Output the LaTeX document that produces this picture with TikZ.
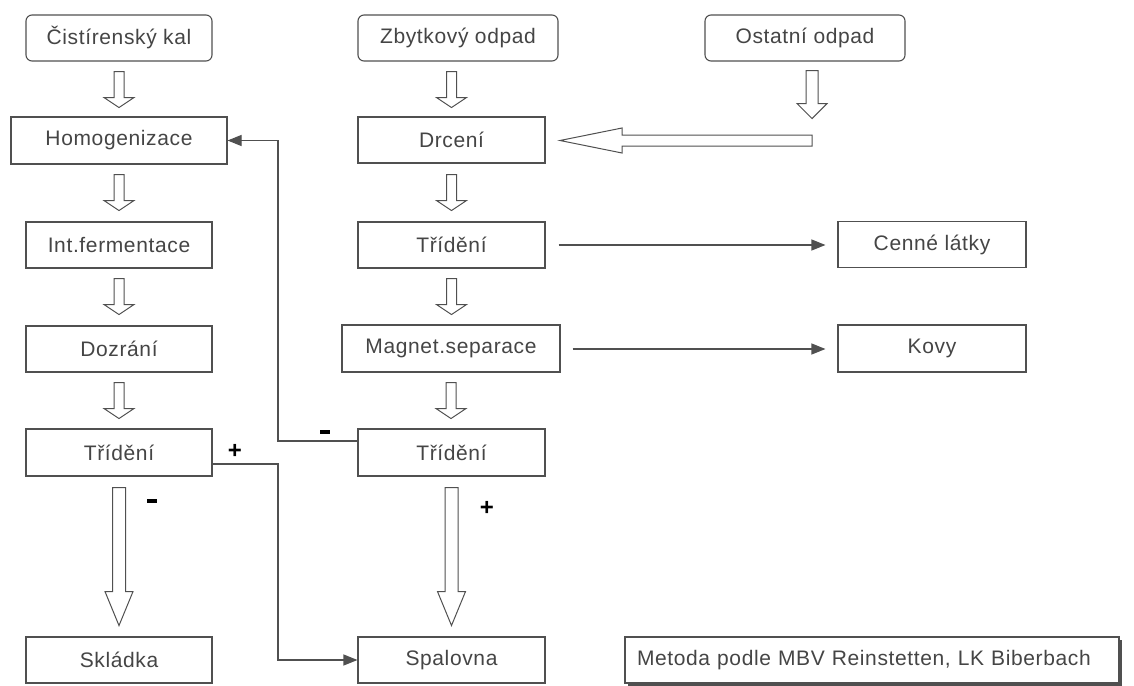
\documentclass[tikz,border=0pt]{standalone}
\usepackage{fontspec}
\setmainfont{Liberation Sans}[LetterSpace=3]
\newfontfamily\signfont{Liberation Sans}
\usetikzlibrary{arrows.meta,calc,shadows}
\definecolor{ln}{HTML}{505050}
\definecolor{tx}{HTML}{454545}
\begin{document}
\begin{tikzpicture}[x=1pt,y=-1pt,
  box/.style={draw=ln, line width=1.1pt, rectangle, minimum width=187pt, minimum height=46pt, inner sep=0pt, text=tx, font=\fontsize{21}{24}\selectfont},
  rbox/.style={box, rounded corners=6pt},
  hollow/.style={draw=ln, line width=1pt, fill=white, line join=miter},
  conn/.style={draw=ln, line width=1.1pt, -{Triangle[length=14pt,width=11pt]}},
  sign/.style={text=black, font=\signfont\bfseries\fontsize{24}{26}\selectfont, inner sep=0pt},
  minus/.style={fill=black, minimum width=10pt, minimum height=4pt, inner sep=0pt},
  pics/dnarrow/.style n args={4}{code={\path[hollow] (-#1,0) -- (-#1,#3) -- (-#2,#3) -- (0,#3+#4) -- (#2,#3) -- (#1,#3) -- (#1,0) -- cycle;}},
  pics/lfarrow/.style n args={4}{code={\path[hollow] (0,-#1) -- (-#3,-#1) -- (-#3,-#2) -- (-#3-#4,0) -- (-#3,#2) -- (-#3,#1) -- (0,#1) -- cycle;}}
]
\fill[white] (0,0) rectangle (1134,685);
\useasboundingbox (0,0) rectangle (1134,685);

% top row
\node[rbox, minimum width=186pt] (kal) at (119,38) {Čistírenský kal};
\node[rbox, minimum width=200pt] (zbyt) at (458,38) {Zbytkový odpad};
\node[rbox, minimum width=200pt] (ost) at (805,38) {Ostatní odpad};

% left column
\node[box, minimum width=216pt, minimum height=47pt] (homog) at (119,140.5) {Homogenizace};
\node[box, minimum width=186pt] (intf) at (119,245) {Int.fermentace};
\node[box, minimum width=186pt] (dozr) at (119,349) {Dozrání};
\node[box, minimum width=186pt, minimum height=47pt] (tridL) at (119,452.5) {Třídění};
\node[box, minimum width=186pt] (skl) at (119,660) {Skládka};

% middle column
\node[box] (drc) at (451.5,140) {Drcení};
\node[box] (trid1) at (451.5,245) {Třídění};
\node[box, minimum width=218pt, minimum height=47pt] (magnet) at (451,348.5) {Magnet.separace};
\node[box, minimum height=47pt] (tridR) at (451.5,452.5) {Třídění};
\node[box] (spal) at (451.5,660) {Spalovna};

% right column
\node[box, minimum width=188pt] (cenne) at (932,244.5) {Cenné látky};
\node[box, minimum width=188pt, minimum height=47pt] (kovy) at (932,348.5) {Kovy};

% note
\node[box, fill=white, text width=470pt, align=left, inner xsep=12pt, minimum height=46pt,
      drop shadow={shadow xshift=3pt, shadow yshift=-3pt, fill=ln, opacity=1}] (met) at (872,660)
      {Metoda podle MBV Reinstetten, LK Biberbach};

% hollow block arrows, left column
\pic at ($(kal.south)+(0,10)$) {dnarrow={5}{15}{26}{10}};
\pic at ($(homog.south)+(0,10)$) {dnarrow={5}{15}{26}{10}};
\pic at ($(intf.south)+(0,10)$) {dnarrow={5}{15}{26}{10}};
\pic at ($(dozr.south)+(0,10)$) {dnarrow={5}{15}{26}{10}};
\pic at ($(tridL.south)+(0,11)$) {dnarrow={6.5}{14}{104}{34}};

% hollow block arrows, middle column
\pic at ($(zbyt.south -| drc.south)+(0,10)$) {dnarrow={5}{15}{26}{10}};
\pic at ($(drc.south)+(0,11)$) {dnarrow={5}{15}{26}{10}};
\pic at ($(trid1.south)+(0,10)$) {dnarrow={5}{15}{26}{10}};
\pic at ($(magnet.south)+(0,10)$) {dnarrow={5}{15}{26}{10}};
\pic at ($(tridR.south)+(0,11)$) {dnarrow={6.5}{14}{104}{34}};

% Ostatni odpad -> Drceni
\pic at ($(ost.south)+(7,9)$) {dnarrow={6}{15}{33}{15}};
\coordinate (bigR) at ($(ost.south |- drc.east)+(7,0.5)$);
\pic at (bigR) {lfarrow={5.5}{12.5}{190}{62}};

% thin connectors
\draw[conn] ($(trid1.east)+(13,0)$) -- ($(cenne.west)+(-12,0.5)$);
\draw[conn] ($(magnet.east)+(12,0.5)$) -- ($(kovy.west)+(-12,0.5)$);

\coordinate (fx) at (278,300);
\draw[conn] ($(tridR.west)+(0,-11.5)$) -| (fx |- homog.east) -- (homog.east);
\draw[conn] ($(tridL.east)+(0,11.5)$) -| (fx |- spal.west) -- (spal.west);

% signs
\node[minus] (m1) at (325,432) {};
\node[sign] (p1) at (235,451) {+};
\node[minus] (m2) at (152,501) {};
\node[sign] (p2) at (487,508) {+};
\end{tikzpicture}
\end{document}
